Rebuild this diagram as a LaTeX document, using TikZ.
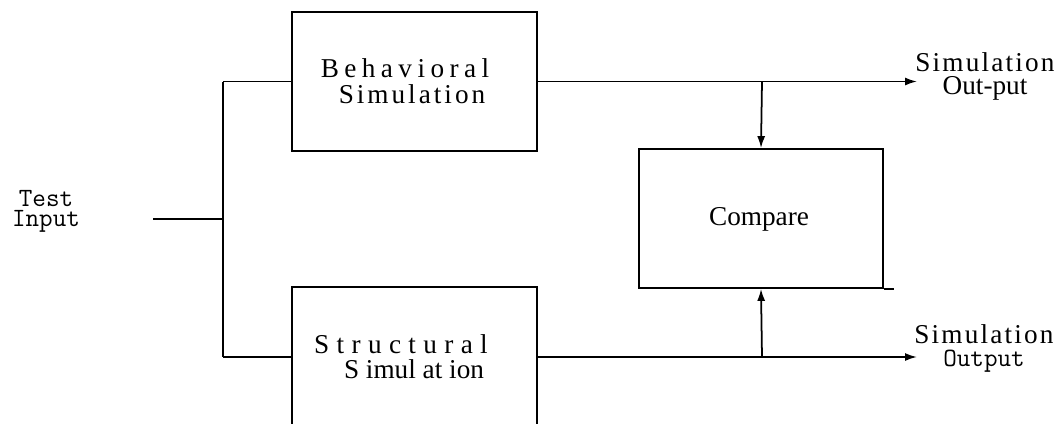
\documentclass[tikz,border=0pt]{standalone}
\usepackage{fontspec}
\setmainfont{Liberation Serif}
\usepackage{tikz}
\usetikzlibrary{arrows.meta, positioning}

\begin{document}
\begin{tikzpicture}[
  x=0.02cm, y=-0.02cm,
  line width=1pt,
  simbox/.style={
    rectangle, draw, inner sep=0pt,
    minimum width=4.9cm, minimum height=2.78cm
  },
  lbl/.style={anchor=base, inner sep=0pt, font=\fontsize{15.5}{18}\selectfont},
  outlbl/.style={anchor=base, inner sep=0pt, align=center, font=\fontsize{15.5}{13}\selectfont},
  arrow/.style={-{Latex[length=2.4mm, width=1.6mm]}}
]
  \useasboundingbox (0,0) rectangle (1062,423);
  \clip (0,0) rectangle (1062,423);

  % Boxes
  \node[simbox] (beh) at (414.5,81.5) {};
  \node[simbox, minimum height=2.8cm] (str) at (414.5,357) {};
  \node[simbox, minimum width=4.88cm] (cmp) at (761,218.5) {};

  % Box texts
  \node[lbl, font=\fontsize{15.5}{18}\selectfont\addfontfeatures{LetterSpace=20}] (beh1) at (405,77) {Behavioral};
  \node[lbl, font=\fontsize{15.5}{18}\selectfont\addfontfeatures{LetterSpace=11}] (beh2) at (412,103) {Simulation};
  \node[lbl, font=\fontsize{15.5}{18}\selectfont\addfontfeatures{LetterSpace=27}] (str1) at (401,353) {Structural};
  \node[lbl] (str2) at (414,378) {S imul at ion};
  \node[lbl] (cmptext) at (759,225) {Compare};

  % Input side (base = last line)
  \node[outlbl, font=\ttfamily\fontsize{15}{11}\selectfont] (testin) at (46,226) {Test\\Input};
  \coordinate (tin) at (153,219);
  \coordinate (split) at (223,219);
  \coordinate (sTop) at (223,81.5);
  \coordinate (sBot) at (223,357);

  % Output side
  \coordinate (outA) at (917,81.5);
  \coordinate (outB) at (917,357);
  \coordinate (tapA) at (762,81.5);
  \coordinate (tapB) at (762,357);
  \node[outlbl] (simA) at (985,94)
    {{\addfontfeatures{LetterSpace=8}Simulation}\\Out-put};
  \node[outlbl] (simB) at (984,366)
    {{\addfontfeatures{LetterSpace=8}Simulation}\\{\ttfamily\fontsize{15}{13}\selectfont Output}};

  % Lines
  \draw (tin) -- (split);
  \draw (sTop) -- (sBot);
  \draw (sTop) -- (beh.west);
  \draw (sBot) -- (str.west);
  \draw[arrow] (beh.east) -- (outA);
  \draw[arrow] (str.east) -- (outB);
  \draw[arrow] (tapA) -- (cmp.north);
  \draw[arrow] (tapB) -- (cmp.south);
  \draw (cmp.south east) -- ++(10,0);
\end{tikzpicture}
\end{document}
